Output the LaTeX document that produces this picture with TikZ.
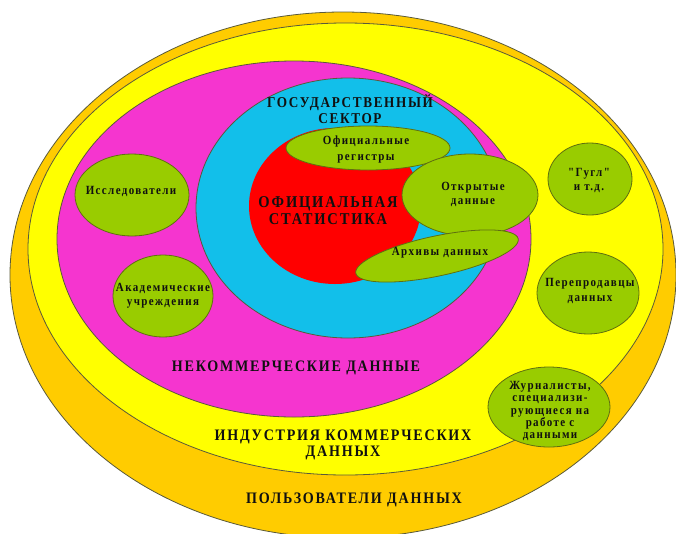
\documentclass[tikz,border=0pt]{standalone}
\usepackage{fontspec}
\usetikzlibrary{shapes.geometric}
\newfontfamily\lblfont{Liberation Serif}[FakeStretch=0.88,LetterSpace=11]
\definecolor{cOrange}{HTML}{FFCC00}
\definecolor{cYellow}{HTML}{FFFF00}
\definecolor{cMagenta}{HTML}{F535CF}
\definecolor{cCyan}{HTML}{12BFEA}
\definecolor{cRed}{HTML}{FF0000}
\definecolor{cGreen}{HTML}{99CC00}
\definecolor{cEdge}{HTML}{5A5A3A}
\definecolor{cGEdge}{HTML}{5F6F10}
\definecolor{cText}{HTML}{101010}
\begin{document}
\begin{tikzpicture}[x=1pt,y=-1pt,
  region/.style={ellipse,draw=cEdge,line width=0.8pt,inner sep=0pt},
  blob/.style={ellipse,draw=cGEdge,fill=cGreen,line width=0.8pt,inner sep=0pt},
  small/.style={text=cText,align=center,font=\lblfont\bfseries\fontsize{12.5}{15}\selectfont,inner sep=0pt},
  big/.style={text=cText,align=center,font=\lblfont\bfseries\fontsize{16}{16}\selectfont,inner sep=0pt}]
\useasboundingbox (0,0) rectangle (676,533);
\begin{scope}
\clip (0,0) rectangle (676,533);
% nested regions
\node[region,fill=cOrange,minimum width=666pt,minimum height=526pt] (users) at (343,275) {};
\node[region,fill=cYellow,minimum width=635pt,minimum height=452pt] (industry) at (345.5,249) {};
\node[region,fill=cMagenta,minimum width=474pt,minimum height=356pt] (noncomm) at (294,239) {};
\node[region,fill=cCyan,minimum width=304pt,minimum height=260pt] (gov) at (348,208) {};
\node[ellipse,fill=cRed,inner sep=0pt,minimum width=172pt,minimum height=156pt] (offstat) at (335,206) {};
% green blobs
\node[blob,minimum width=164pt,minimum height=44pt] (reg) at (368,148) {};
\node[blob,minimum width=136pt,minimum height=82pt] (open) at (470,195) {};
\node[blob,minimum width=166pt,minimum height=40pt,rotate=12] (arch) at (437,256) {};
\node[blob,minimum width=114pt,minimum height=82pt] (res) at (132,195) {};
\node[blob,minimum width=100pt,minimum height=82pt] (acad) at (163,296) {};
\node[blob,minimum width=84pt,minimum height=72pt] (google) at (590,179) {};
\node[blob,minimum width=102pt,minimum height=82pt] (resell) at (588,293) {};
\node[blob,minimum width=122pt,minimum height=80pt] (journ) at (549,407) {};
\end{scope}
% labels
\node[big,font=\lblfont\bfseries\fontsize{15}{16}\selectfont] (tgov) at (350,109) {ГОСУДАРСТВЕННЫЙ\\СЕКТОР};
\node[big,font=\lblfont\bfseries\fontsize{16.5}{17}\selectfont] (tstat) at (328,211) {ОФИЦИАЛЬНАЯ\\СТАТИСТИКА};
\node[big] (tnon) at (296,368) {НЕКОММЕРЧЕСКИЕ ДАННЫЕ};
\node[big] (tind) at (343,445) {ИНДУСТРИЯ КОММЕРЧЕСКИХ\\ДАННЫХ};
\node[big] (tusr) at (354,500) {ПОЛЬЗОВАТЕЛИ ДАННЫХ};
\node[small,font=\lblfont\bfseries\fontsize{12.5}{16}\selectfont] (treg) at (366,149) {Официальные\\регистры};
\node[small,font=\lblfont\bfseries\fontsize{12.5}{14}\selectfont] (topen) at (473,194) {Открытые\\данные};
\node[small] (tarch) at (440,253) {Архивы данных};
\node[small] (tres) at (131,191) {Исследователи};
\node[small,font=\lblfont\bfseries\fontsize{12.5}{14}\selectfont] (tacad) at (163,296) {Академические\\учреждения};
\node[small,font=\lblfont\bfseries\fontsize{12.5}{14}\selectfont] (tgoo) at (589,180) {"Гугл"\\и т.д.};
\node[small] (tresell) at (590,291) {Перепродавцы\\данных};
\node[small,font=\lblfont\bfseries\fontsize{12.5}{12.3}\selectfont] (tjourn) at (550,411) {Журналисты,\\специализи-\\рующиеся на\\работе с\\данными};
\end{tikzpicture}
\end{document}
